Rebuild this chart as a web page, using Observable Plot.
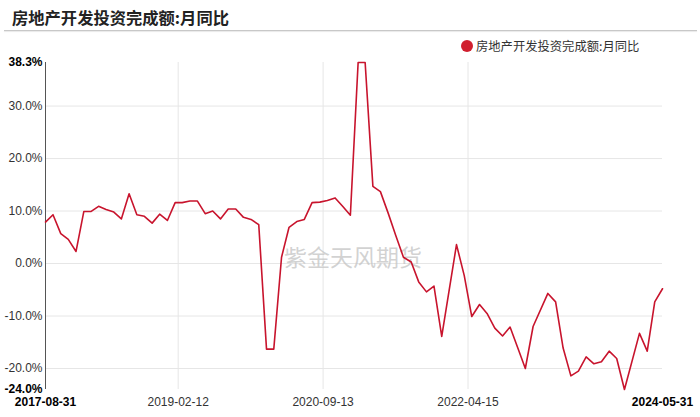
<!DOCTYPE html>
<html>
<head>
<meta charset="utf-8">
<script src="https://cdn.jsdelivr.net/npm/d3@7"></script>
<script src="https://cdn.jsdelivr.net/npm/@observablehq/plot@0.6"></script>
<style>
  html, body { margin: 0; padding: 0; background: #fff; }
  #wrap { width: 700px; height: 417px; position: relative; overflow: hidden; font-family: Arial, "Liberation Sans", "Noto Sans CJK SC", sans-serif; }
  #header { position: relative; height: 50px; }
  #title { position: absolute; left: 12px; top: 7px; font-size: 16.3px; line-height: 20px; font-weight: bold; color: #222; font-family: "Noto Sans CJK SC", sans-serif; }
  #rule { position: absolute; left: 4px; right: 3px; top: 30px; height: 1px; background: #c8c8c8; box-shadow: 0 1px 1px #e6e6e6; }
  #legend { position: absolute; left: 461px; top: 38px; height: 15px; display: flex; align-items: center; font-size: 12.3px; color: #333; font-family: "Noto Sans CJK SC", sans-serif; }
  #legend .dot { width: 12px; height: 12px; border-radius: 50%; margin-right: 3px; }
</style>
</head>
<body>
<div id="wrap">
  <div id="header">
    <div id="title"></div>
    <div id="rule"></div>
    <div id="legend"><span class="dot"></span><span class="lbl"></span></div>
  </div>
  <div id="chart"></div>
</div>
<script>
const chartTitle = "房地产开发投资完成额:月同比";
const seriesName = "房地产开发投资完成额:月同比";
const watermark = "紫金天风期货";
const lineColor = "#c8142d";

// Month of each observation (value dated at month end)
const months = [
  "2017-08","2017-09","2017-10","2017-11","2017-12",
  "2018-01","2018-02","2018-03","2018-04","2018-05","2018-06","2018-07","2018-08","2018-09","2018-10","2018-11","2018-12",
  "2019-01","2019-02","2019-03","2019-04","2019-05","2019-06","2019-07","2019-08","2019-09","2019-10","2019-11","2019-12",
  "2020-01","2020-02","2020-03","2020-04","2020-05","2020-06","2020-07","2020-08","2020-09","2020-10","2020-11","2020-12",
  "2021-01","2021-02","2021-03","2021-04","2021-05","2021-06","2021-07","2021-08","2021-09","2021-10","2021-11","2021-12",
  "2022-02","2022-03","2022-04","2022-05","2022-06","2022-07","2022-08","2022-09","2022-10","2022-11","2022-12",
  "2023-02","2023-03","2023-04","2023-05","2023-06","2023-07","2023-08","2023-09","2023-10","2023-11","2023-12",
  "2024-02","2024-03","2024-04","2024-05"
];
// Monthly YoY, %
const yoy = [
  7.9, 9.3, 5.7, 4.6, 2.3,
  9.9, 9.9, 10.9, 10.3, 9.8, 8.5, 13.3, 9.3, 9.0, 7.7, 9.4, 8.2,
  11.6, 11.6, 11.9, 11.9, 9.5, 10.0, 8.5, 10.4, 10.4, 8.8, 8.4, 7.4,
  -16.3, -16.3, 1.2, 6.9, 8.0, 8.4, 11.6, 11.7, 12.0, 12.5, 10.9, 9.2,
  38.3, 38.3, 14.7, 13.7, 9.6, 5.4, 1.2, 0.3, -3.5, -5.4, -4.3, -13.9,
  3.6, -2.3, -10.1, -7.8, -9.5, -12.3, -13.8, -12.1, -16.1, -20.0, -12.0,
  -5.7, -7.3, -16.1, -21.4, -20.5, -17.8, -19.1, -18.7, -16.7, -18.1, -24.0,
  -13.3, -16.7, -7.3, -4.8
];
const xTickLabels = ["2017-08-31","2019-02-12","2020-09-13","2022-04-15","2024-05-31"];
const yTickValues = [-20, -10, 0, 10, 20, 30];

document.getElementById("title").textContent = chartTitle;
document.querySelector("#legend .lbl").textContent = seriesName;
document.querySelector("#legend .dot").style.background = "#d01f2e";

const parseMonth = d3.utcParse("%Y-%m");
const parseDay = d3.utcParse("%Y-%m-%d");
const fmtDay = d3.utcFormat("%Y-%m-%d");
const data = months.map((m, i) => ({
  date: d3.utcDay.offset(d3.utcMonth.offset(parseMonth(m), 1), -1),
  value: yoy[i]
}));
const xTicks = xTickLabels.map(parseDay);
const xMid = xTicks.slice(1, -1);
const xEnds = [xTicks[0], xTicks[xTicks.length - 1]];
const yExt = [d3.min(yoy), d3.max(yoy)];
const pct = d => d.toFixed(1) + "%";

const chart = Plot.plot({
  width: 700,
  height: 367,
  marginTop: 12,
  marginBottom: 28,
  marginLeft: 45,
  marginRight: 38,
  style: { fontFamily: "Arial, 'Liberation Sans', sans-serif", fontSize: "12px", background: "transparent" },
  x: { type: "utc", domain: xEnds },
  y: { domain: yExt, nice: false },
  marks: [
    Plot.gridY(yTickValues, { stroke: "#e6e6e6", strokeOpacity: 1 }),
    Plot.gridX(xMid, { stroke: "#e6e6e6", strokeOpacity: 1 }),
    Plot.text([watermark], { frameAnchor: "middle", dx: -1, dy: 33, fontSize: 23, fill: "#c4c4c4", fillOpacity: 0.75, fontFamily: "'Noto Sans CJK SC', sans-serif" }),
    Plot.ruleX([xEnds[0]], { stroke: "#555", strokeWidth: 1 }),
    Plot.lineY(data, { x: "date", y: "value", stroke: lineColor, strokeWidth: 1.6 }),
    Plot.axisY(yTickValues, { tickSize: 0, tickPadding: 3, tickFormat: pct, fill: "#333", fontSize: 12, label: null }),
    Plot.axisY(yExt, { tickSize: 0, tickPadding: 3, tickFormat: pct, fill: "#000", fontWeight: "bold", fontSize: 12, label: null }),
    Plot.axisX(xMid, { tickSize: 0, tickPadding: 8, tickFormat: fmtDay, fill: "#333", fontSize: 12, label: null }),
    Plot.axisX(xEnds, { tickSize: 0, tickPadding: 8, tickFormat: fmtDay, fill: "#000", fontWeight: "bold", fontSize: 12, label: null })
  ]
});
document.getElementById("chart").appendChild(chart);
</script>
</body>
</html>
